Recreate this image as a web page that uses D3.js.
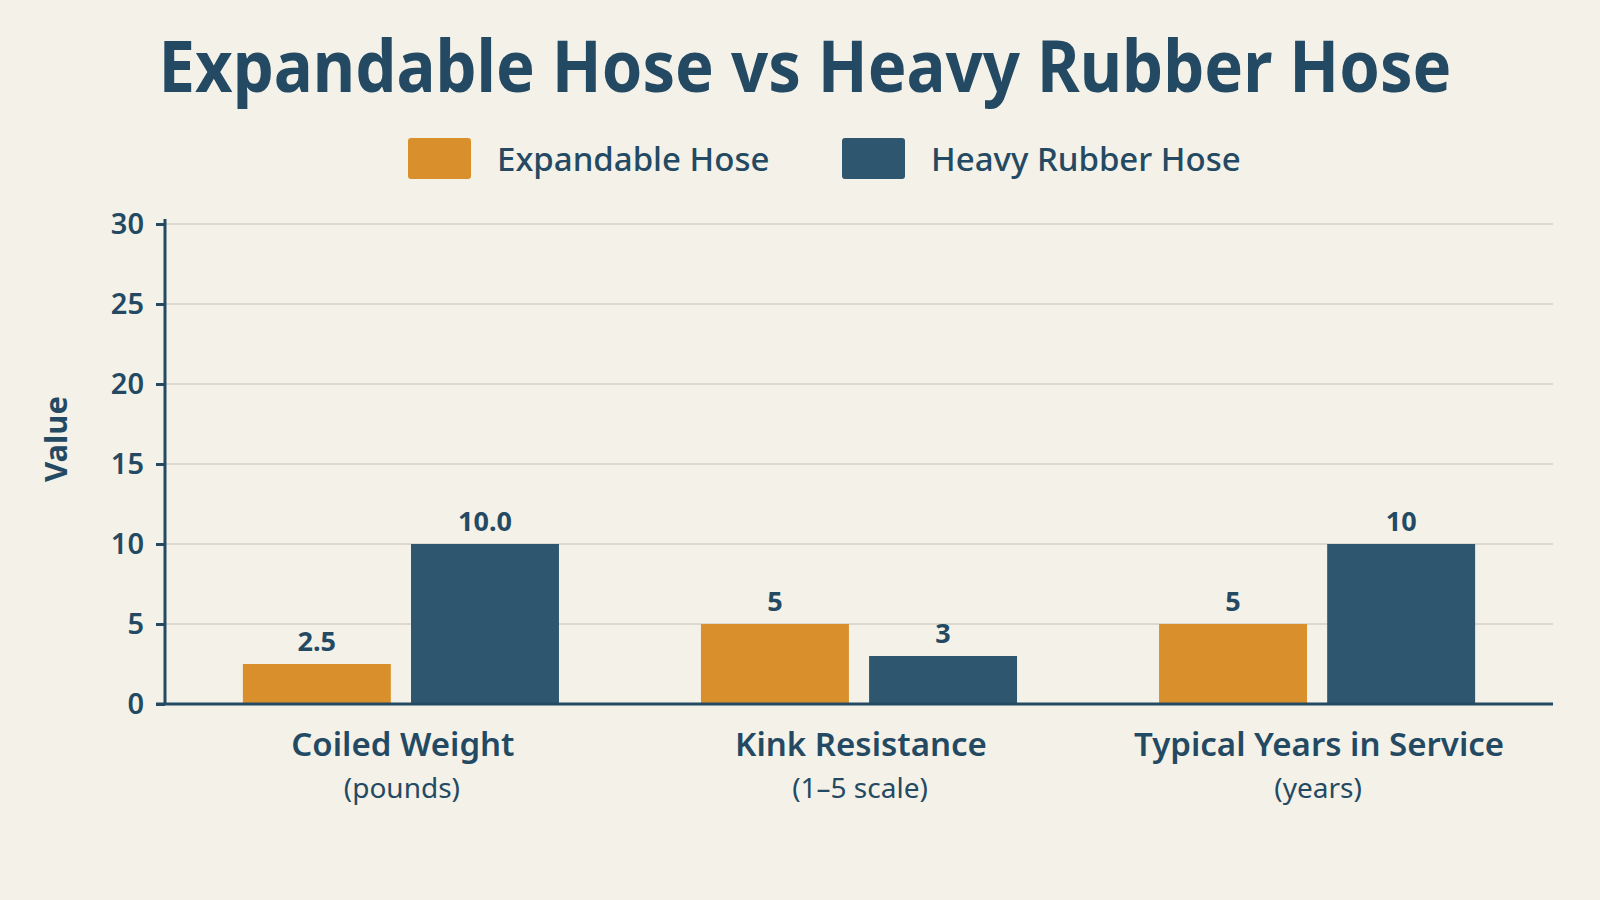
<!DOCTYPE html>
<html>
<head>
<meta charset="utf-8">
<script src="https://cdn.jsdelivr.net/npm/d3@7"></script>
<style>
  html, body { margin: 0; padding: 0; background: #f4f1e8; }
  svg { display: block; font-family: "Noto Sans", "Open Sans", sans-serif; }
</style>
</head>
<body>
<div id="chart"></div>
<script>
var width = 1600;
var height = 900;

// data
var categories = ["Coiled Weight", "Kink Resistance", "Typical Years in Service"];
var units = ["(pounds)", "(1\u20135 scale)", "(years)"];
var seriesNames = ["Expandable Hose", "Heavy Rubber Hose"];
var expandable = [2.5, 5, 5];
var heavyRubber = [10, 3, 10];
var valueLabels = [["2.5", "5", "5"], ["10.0", "3", "10"]];
var yTicks = [0, 5, 10, 15, 20, 25, 30];

var colors = ["#d9902c", "#2f566f"];
var ink = "#244a63";

var marginLeft = 165, marginRight = 47, marginTop = 224, marginBottom = 196;

var svg = d3.select("#chart").append("svg")
    .attr("width", width)
    .attr("height", height);

svg.append("rect").attr("width", width).attr("height", height).attr("fill", "#f4f1e8");

var x = d3.scaleBand()
    .domain(categories)
    .range([marginLeft, width - marginRight])
    .paddingInner(0.31)
    .paddingOuter(0.17);

var x1 = d3.scaleBand()
    .domain(seriesNames)
    .range([0, x.bandwidth()])
    .paddingInner(0.12);

var y = d3.scaleLinear()
    .domain([0, 30])
    .range([height - marginBottom, marginTop]);

// grid
svg.append("g").selectAll("line")
    .data(yTicks.slice(1))
    .enter().append("line")
    .attr("x1", marginLeft)
    .attr("x2", width - marginRight)
    .attr("y1", function (d) { return y(d); })
    .attr("y2", function (d) { return y(d); })
    .attr("stroke", "#dcd8ce")
    .attr("stroke-width", 2);

// bars
var rows = categories.map(function (c, i) {
    return {cat: c, vals: [expandable[i], heavyRubber[i]], i: i};
});

var group = svg.append("g").selectAll("g")
    .data(rows)
    .enter().append("g")
    .attr("transform", function (d) { return "translate(" + x(d.cat) + ",0)"; });

group.selectAll("rect")
    .data(function (d) {
        return d.vals.map(function (v, k) { return {v: v, k: k, i: d.i}; });
    })
    .enter().append("rect")
    .attr("x", function (d) { return x1(seriesNames[d.k]); })
    .attr("width", x1.bandwidth())
    .attr("y", function (d) { return y(d.v); })
    .attr("height", function (d) { return y(0) - y(d.v); })
    .attr("fill", function (d) { return colors[d.k]; });

group.selectAll("text")
    .data(function (d) {
        return d.vals.map(function (v, k) { return {v: v, k: k, i: d.i}; });
    })
    .enter().append("text")
    .attr("x", function (d) { return x1(seriesNames[d.k]) + x1.bandwidth() / 2; })
    .attr("y", function (d) { return y(d.v) - 13; })
    .attr("text-anchor", "middle")
    .attr("font-size", 27)
    .attr("font-weight", 700)
    .attr("fill", ink)
    .text(function (d) { return valueLabels[d.k][d.i]; });

// y axis
var yAxis = svg.append("g")
    .attr("transform", "translate(" + marginLeft + ",0)")
    .call(d3.axisLeft(y).tickValues(yTicks).tickSize(9).tickPadding(12));
yAxis.select(".domain").attr("stroke", ink).attr("stroke-width", 3)
    .attr("d", "M0," + (y(30) - 5) + "V" + y(0));
yAxis.selectAll(".tick line").attr("stroke", ink).attr("stroke-width", 3);
yAxis.selectAll(".tick text")
    .attr("fill", ink)
    .attr("font-size", 29)
    .attr("font-weight", 600)
    .attr("font-family", "'Noto Sans', sans-serif");

// x baseline
svg.append("line")
    .attr("x1", marginLeft - 9)
    .attr("x2", width - marginRight)
    .attr("y1", y(0))
    .attr("y2", y(0))
    .attr("stroke", ink)
    .attr("stroke-width", 3);

// category labels (name + unit line)
var catLab = svg.append("g").selectAll("g")
    .data(categories)
    .enter().append("g");
catLab.append("text")
    .attr("x", function (d) { return x(d) + x.bandwidth() / 2 + 2; })
    .attr("y", y(0) + 52)
    .attr("text-anchor", "middle")
    .attr("font-size", 33)
    .attr("font-weight", 600)
    .attr("fill", ink)
    .text(function (d) { return d; });
catLab.append("text")
    .attr("x", function (d) { return x(d) + x.bandwidth() / 2 + 1; })
    .attr("y", y(0) + 94)
    .attr("text-anchor", "middle")
    .attr("font-size", 28)
    .attr("fill", ink)
    .text(function (d, i) { return units[i]; });

// y label
svg.append("text")
    .attr("transform", "translate(67,439) rotate(-90)")
    .attr("text-anchor", "middle")
    .attr("font-size", 31)
    .attr("font-weight", 700)
    .attr("fill", ink)
    .text("Value");

// title
svg.append("text")
    .attr("x", 805)
    .attr("y", 92)
    .attr("text-anchor", "middle")
    .attr("font-size", 71)
    .attr("font-weight", 700)
    .attr("textLength", 1293)
    .attr("lengthAdjust", "spacingAndGlyphs")
    .attr("fill", ink)
    .text("Expandable Hose vs Heavy Rubber Hose");

// legend
var legendX = [408, 842];
var legend = svg.append("g").selectAll("g")
    .data(seriesNames)
    .enter().append("g")
    .attr("transform", function (d, i) { return "translate(" + legendX[i] + ",138)"; });
legend.append("rect")
    .attr("width", 63)
    .attr("height", 41)
    .attr("rx", 3)
    .attr("fill", function (d, i) { return colors[i]; });
legend.append("text")
    .attr("x", 89)
    .attr("y", 33)
    .attr("font-size", 33)
    .attr("font-weight", 500)
    .attr("fill", ink)
    .text(function (d) { return d; });
</script>
</body>
</html>
